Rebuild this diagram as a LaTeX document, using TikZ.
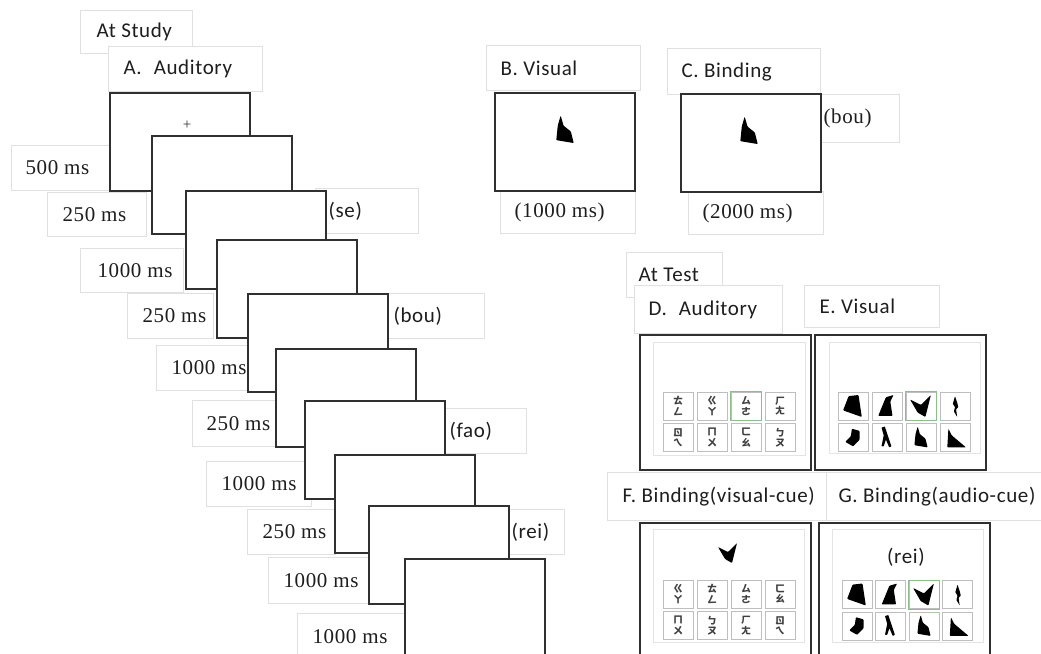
\documentclass[tikz,border=0pt]{standalone}
\usepackage{fontspec}
\setmainfont{Carlito}[LetterSpace=3]
\newfontfamily\tms{Liberation Serif}[LetterSpace=3]
\newfontfamily\bpmf{Noto Sans CJK TC}
\usepackage{xcolor}
\definecolor{ink}{HTML}{1E1E1E}
\definecolor{dark}{HTML}{303030}
\definecolor{edge}{HTML}{E0E0E0}
\definecolor{panelgray}{HTML}{E4E4E4}
\definecolor{cellgray}{HTML}{BEBEBE}
\definecolor{cellgreen}{HTML}{8DBF8D}
\newcommand{\padtext}[3]{\makebox[#1pt][l]{\hspace*{#2pt}#3}}
\tikzset{
  tag/.style={draw=edge, line width=1.2pt, fill=white, anchor=north west, inner xsep=0pt, inner ysep=0pt, text=ink, font=\fontsize{21}{24}\selectfont},
  timetag/.style={tag, font=\tms\fontsize{21}{24}\selectfont},
  screen/.style={draw=dark, line width=1.5pt, fill=white, anchor=north west, minimum width=140pt, minimum height=98pt, inner sep=0pt},
  testscreen/.style={screen, minimum width=171pt, minimum height=135pt},
  panel/.style={draw=panelgray, line width=0.8pt, fill=white, anchor=north west, inner sep=0pt},
  cell/.style={draw=cellgray, line width=1pt, minimum width=30pt, minimum height=28pt, inner sep=0pt, align=center, text=ink!85, font=\bpmf\bfseries\fontsize{10}{10.5}\selectfont},
  pics/slab/.style={code={\fill[black, rounded corners=0.8pt] (-4,-9) -- (5,-10) -- (8,10) -- (-9,4) -- cycle;}},
  pics/flag/.style={code={\fill[black, rounded corners=0.8pt] (-1,-8) -- (6,-10) -- (3,-4) -- (5,9) -- (-8,9) -- cycle;}},
  pics/vee/.style={code={\fill[black, rounded corners=0.8pt] (-10,-6) -- (0,-1) -- (9,-10) -- (4,10) -- (-3,6) -- cycle;}},
  pics/sliver/.style={code={\fill[black, rounded corners=0.5pt] (0,-9) -- (2,-3) -- (3,1) -- (1,3) -- (2,10) -- (-1,5) -- (0,1) -- (-2,-2) -- cycle;}},
  pics/blob/.style={code={\fill[black, rounded corners=0.8pt] (-1,-8) -- (6,-6) -- (6,2) -- (0,8) -- (-7,4) -- (-2,-1) -- cycle;}},
  pics/lam/.style={code={\fill[black, rounded corners=0.5pt] (-5,-9) -- (-2,-10) -- (4,8) -- (2,9) -- (-1,2) -- (-3,8) -- (-5,8) -- (-3,-2) -- cycle;}},
  pics/bee/.style={code={\fill[black, rounded corners=0.8pt] (-3,-10) -- (-1,-3) -- (4,1) -- (6,9) -- (-6,7) -- (-5,-3) -- cycle;}},
  pics/wedge/.style={code={\fill[black, rounded corners=0.8pt] (-6,-8) -- (-3,-2) -- (10,9) -- (-7,9) -- cycle;}}
}
\begin{document}
\begin{tikzpicture}[x=1pt, y=-1pt]
  \useasboundingbox (0,0) rectangle (1041,653);
  \clip (0,0) rectangle (1041,653);

  % study phase, auditory stream
  \node[tag, minimum height=43pt] (study) at (80,10) {\padtext{112}{16}{At Study}};
  \node[tag, minimum height=45pt] (audA) at (108,46) {\padtext{154}{15}{A.\hspace{12pt}Auditory}};

  \node[timetag, minimum height=45pt] (t1) at (11,145) {\padtext{98}{14}{500 ms}};
  \node[timetag, minimum height=44pt] (t2) at (47,192) {\padtext{99}{15}{250 ms}};
  \node[timetag, minimum height=44pt] (t3) at (80,248) {\padtext{103}{17}{1000 ms}};
  \node[timetag, minimum height=45pt] (t4) at (127,293) {\padtext{86}{15}{250 ms}};
  \node[timetag, minimum height=45pt] (t5) at (156,345) {\padtext{94}{15}{1000 ms}};
  \node[timetag, minimum height=46pt] (t6) at (192,400) {\padtext{83}{14}{250 ms}};
  \node[timetag, minimum height=45pt] (t7) at (206,461) {\padtext{105}{15}{1000 ms}};
  \node[timetag, minimum height=45pt] (t8) at (247,509) {\padtext{88}{15}{250 ms}};
  \node[timetag, minimum height=46pt] (t9) at (268,557) {\padtext{100}{15}{1000 ms}};
  \node[timetag, minimum height=46pt] (t10) at (297,613) {\padtext{107}{15}{1000 ms}};

  \node[tag, minimum height=45pt] (se) at (315,188) {\padtext{103}{13}{(se)}};
  \node[tag, minimum height=45pt] (bouA) at (378,293) {\padtext{106}{15}{(bou)}};
  \node[tag, minimum height=45pt] (fao) at (445,408) {\padtext{81}{4}{(fao)}};
  \node[tag, minimum height=45pt] (reiA) at (509,509) {\padtext{55}{2}{(rei)}};

  \node[screen] (s1) at (109,92) {};
  \node[font=\tms\fontsize{15}{15}\selectfont, text=dark] (fix) at (187,125) {+};
  \node[screen] (s2) at (151,135) {};
  \node[screen] (s3) at (185,190) {};
  \node[screen] (s4) at (216,239) {};
  \node[screen] (s5) at (247,293) {};
  \node[screen] (s6) at (275,348) {};
  \node[screen] (s7) at (304,400) {};
  \node[screen] (s8) at (334,454) {};
  \node[screen] (s9) at (368,505) {};
  \node[screen] (s10) at (404,558) {};

  % study phase, visual and binding
  \node[tag, minimum height=45pt] (visB) at (486,45) {\padtext{154}{14}{B. Visual}};
  \node[tag, minimum height=46pt] (bindC) at (667,48) {\padtext{153}{14}{C. Binding}};
  \node[timetag, minimum height=43pt] (tB) at (500,190) {\padtext{135}{14}{(1000 ms)}};
  \node[timetag, minimum height=43pt] (tC) at (688,191) {\padtext{135}{14}{(2000 ms)}};
  \node[timetag, minimum height=48pt] (bouC) at (821,94) {\padtext{78}{2}{(bou)}};
  \node[screen] (sB) at (494,92) {};
  \node[screen] (sC) at (680,93) {};
  \pic[scale=1.45] at (565,130) {bee};
  \pic[scale=1.45] at (749,131) {bee};

  % test phase
  \node[tag, minimum height=45pt] (test) at (626,252) {\padtext{96}{12}{At Test}};
  \node[tag, minimum height=48pt] (audD) at (634,285) {\padtext{148}{14}{D.\hspace{12pt}Auditory}};
  \node[tag, minimum height=42pt] (visE) at (804,285) {\padtext{135}{15}{E. Visual}};
  \node[tag, minimum height=48pt] (bindF) at (607,472) {\padtext{219}{15}{F. Binding(visual-cue)}};
  \node[tag, minimum height=48pt] (bindG) at (826,472) {\padtext{216}{12}{G. Binding(audio-cue)}};

  \node[testscreen] (sD) at (639,334) {};
  \node[testscreen] (sE) at (814,334) {};
  \node[testscreen, minimum height=180pt] (sF) at (639,522) {};
  \node[testscreen, minimum height=180pt] (sG) at (818,522) {};
  \node[panel, minimum width=152pt, minimum height=113pt] (pD) at (653,342) {};
  \node[panel, minimum width=151pt, minimum height=111pt] (pE) at (829,342) {};
  \node[panel, minimum width=151pt, minimum height=113pt] (pF) at (653,529) {};
  \node[panel, minimum width=151pt, minimum height=113pt] (pG) at (832,529) {};

  \foreach \a/\b [count=\i from 0] in {ㄊ/ㄥ,ㄍ/ㄚ,ㄙ/ㄜ,ㄏ/ㄤ,ㄖ/ㄟ,ㄇ/ㄨ,ㄈ/ㄠ,ㄅ/ㄡ}{
    \pgfmathtruncatemacro\cc{mod(\i,4)}
    \pgfmathtruncatemacro\rr{\i/4}
    \node[cell] (d\i) at (678+34*\cc, 406+31.5*\rr) {\a\\\b};
  }
  \foreach \p [count=\i from 0] in {slab,flag,vee,sliver,blob,lam,bee,wedge}{
    \pgfmathtruncatemacro\cc{mod(\i,4)}
    \pgfmathtruncatemacro\rr{\i/4}
    \node[cell] (e\i) at (853+34*\cc, 406+31.5*\rr) {};
    \pic[scale=1.1] at (e\i) {\p};
  }
  \foreach \a/\b [count=\i from 0] in {ㄍ/ㄚ,ㄊ/ㄥ,ㄙ/ㄜ,ㄈ/ㄠ,ㄇ/ㄨ,ㄅ/ㄡ,ㄏ/ㄤ,ㄖ/ㄟ}{
    \pgfmathtruncatemacro\cc{mod(\i,4)}
    \pgfmathtruncatemacro\rr{\i/4}
    \node[cell] (f\i) at (678+34*\cc, 594+31.5*\rr) {\a\\\b};
  }
  \foreach \p [count=\i from 0] in {slab,flag,vee,sliver,blob,lam,bee,wedge}{
    \pgfmathtruncatemacro\cc{mod(\i,4)}
    \pgfmathtruncatemacro\rr{\i/4}
    \node[cell] (g\i) at (857+33.5*\cc, 594.5+31.5*\rr) {};
    \pic[scale=1.1] at (g\i) {\p};
  }
  \draw[cellgreen, line width=1pt] (d2.north west) rectangle (d2.south east);
  \draw[cellgreen, line width=1pt] (e2.north west) rectangle (e2.south east);
  \draw[cellgreen, line width=1pt] (g2.north west) rectangle (g2.south east);

  \pic at (728,553) {vee};
  \node[font=\fontsize{21}{24}\selectfont, text=ink] (reiG) at (906,557) {(rei)};
\end{tikzpicture}
\end{document}
